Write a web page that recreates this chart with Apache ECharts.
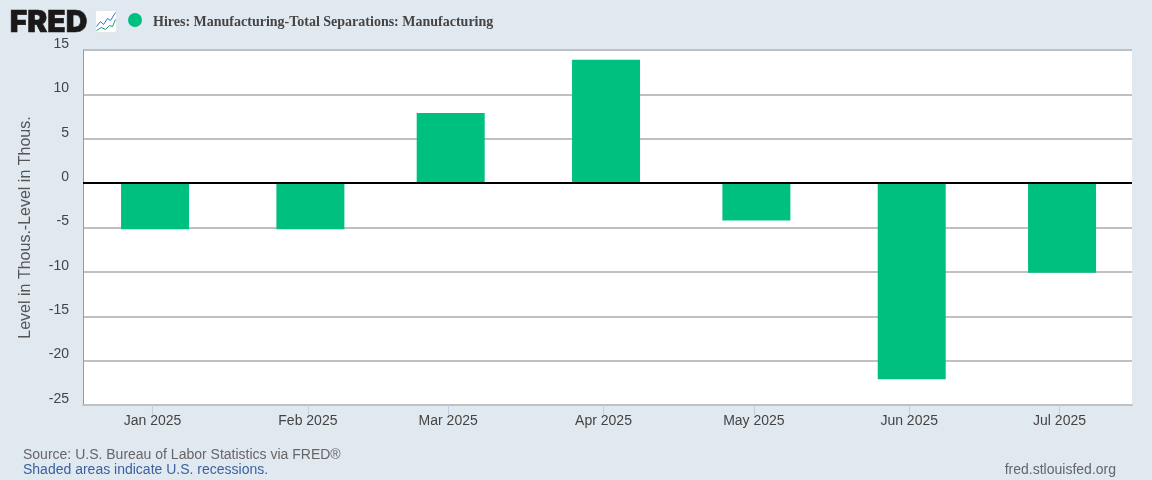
<!DOCTYPE html>
<html><head><meta charset="utf-8">
<style>html,body{margin:0;padding:0;background:#e1e9f0}#c{width:1152px;height:480px}</style>
<script src="https://cdn.jsdelivr.net/npm/echarts@6/dist/echarts.min.js"></script>
</head><body><div id="c"></div>
<script>
const tickDates = ['2025-01-01','2025-02-01','2025-03-01','2025-04-01','2025-05-01','2025-06-01','2025-07-01'];
const tickLabels = ['Jan 2025','Feb 2025','Mar 2025','Apr 2025','May 2025','Jun 2025','Jul 2025'];
const values = [-5.2, -5.2, 7.9, 13.9, -4.2, -22.1, -10.1];
const seriesName = 'Hires: Manufacturing-Total Separations: Manufacturing';
const yTitle = 'Level in Thous.-Level in Thous.';
const ms = d => Date.parse(d + 'T00:00:00Z');
const HALF_DAY = 43200000;
const tickMs = tickDates.map(ms);
const chart = echarts.init(document.getElementById('c'), null, {renderer:'canvas'});
const sans = '"Liberation Sans", Arial, sans-serif';
chart.setOption({
  animation: false,
  backgroundColor: '#e1e9f0',
  grid: {left:83, right:20, top:50, bottom:75, show:true, backgroundColor:'#fff', borderWidth:0},
  xAxis: {
    type:'value', scale:true,
    min: Date.parse('2024-12-18T03:00:00Z'),
    max: Date.parse('2025-07-15T11:00:00Z'),
    axisLine:{show:true, onZero:false, lineStyle:{color:'#c0c0c0', width:2}},
    axisTick:{show:true, length:10, customValues:tickMs, lineStyle:{color:'#c0d0e0', width:1}},
    axisLabel:{show:true, customValues:tickMs, margin:9, color:'#444', fontFamily:sans, fontSize:14, hideOverlap:false,
      showMinLabel:true, showMaxLabel:true,
      formatter:v => tickLabels[tickMs.indexOf(v)] || ''},
    splitLine:{show:false}
  },
  yAxis: {
    type:'value', min:-25, max:15, interval:5,
    name:yTitle, nameLocation:'middle', nameGap:49, nameRotate:90,
    nameTextStyle:{color:'#555', fontFamily:sans, fontSize:16},
    axisLine:{show:true, onZero:false, lineStyle:{color:'#999', width:1}},
    axisTick:{show:false},
    axisLabel:{margin:14, color:'#444', fontFamily:sans, fontSize:14, verticalAlign:'bottom', lineHeight:12},
    splitLine:{show:true, lineStyle:{color:'#c0c0c0', width:2}}
  },
  series:[{
    type:'bar', name:seriesName, barWidth:68,
    itemStyle:{color:'#00c080'},
    data: tickMs.map((t,i)=>[t+HALF_DAY, values[i]]),
    markLine:{silent:true, symbol:'none', label:{show:false}, z:10,
      lineStyle:{color:'#000', width:2, type:'solid'}, data:[{yAxis:0}]}
  }],
  graphic:[
    {type:'text', left:9.5, top:8, style:{text:'FRED', font:'900 30px Inter, "Liberation Sans", sans-serif', fill:'#1a1818', stroke:'#1a1818', lineWidth:0.6}},
    {type:'group', left:94, top:10, children:[
      {type:'rect', shape:{x:0,y:0,width:21,height:22,r:2}, style:{fill:'#fff', stroke:'#d8d8d8', lineWidth:0.5}},
      {type:'polyline', shape:{points:[[1,16],[5,11],[8,14],[12,8],[15,10],[20,2]]}, style:{fill:null, stroke:'#2a6fdb', lineWidth:1}},
      {type:'polyline', shape:{points:[[1,20],[6,17],[10,19],[14,15],[17,16],[20,9]]}, style:{fill:null, stroke:'#1e9a78', lineWidth:1}}
    ]},
    {type:'circle', shape:{cx:135, cy:20, r:7}, style:{fill:'#00c080'}},
    {type:'text', x:153, y:22, style:{text:seriesName, font:'bold 14px "Liberation Serif", serif', fill:'#444', verticalAlign:'middle'}},
    {type:'text', x:23, y:455, style:{text:'Source: U.S. Bureau of Labor Statistics via FRED®', font:'14px '+sans, fill:'#666', verticalAlign:'middle'}},
    {type:'text', x:23, y:470, style:{text:'Shaded areas indicate U.S. recessions.', font:'14px '+sans, fill:'#3c61a0', verticalAlign:'middle'}},
    {type:'text', x:1116, y:470, style:{text:'fred.stlouisfed.org', font:'14px '+sans, fill:'#666', align:'right', verticalAlign:'middle'}}
  ]
});
</script></body></html>
